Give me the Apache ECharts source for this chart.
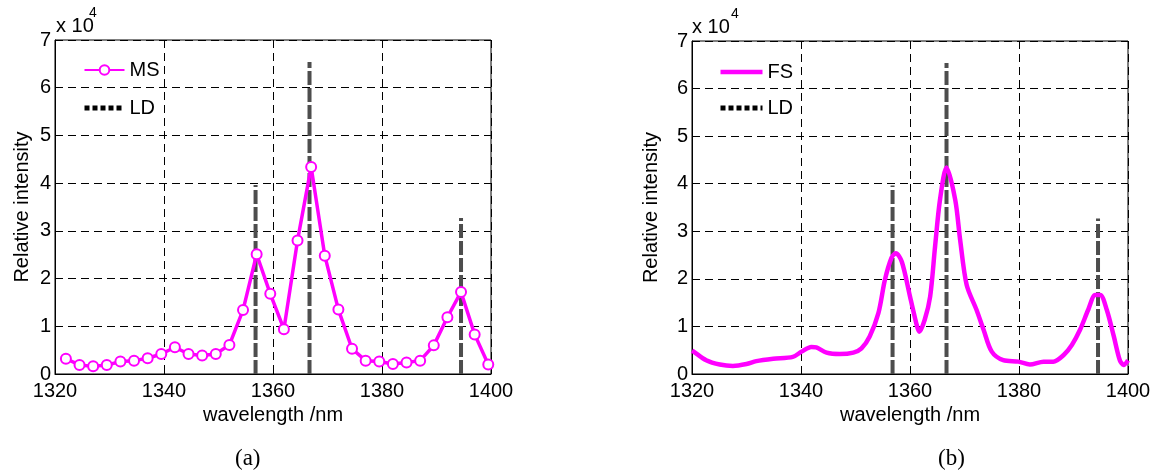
<!DOCTYPE html>
<html>
<head>
<meta charset="utf-8">
<script src="https://cdn.jsdelivr.net/npm/echarts@6/dist/echarts.min.js"></script>
<style>
  html, body { margin: 0; padding: 0; background: #fff; }
  #chart { width: 1156px; height: 472px; }
</style>
</head>
<body>
<div id="chart"></div>
<script>
// MS: measured spectrum (sampled every 2.5 nm)
var msWave = [1322, 1324.5, 1327, 1329.5, 1332, 1334.5, 1337, 1339.5, 1342, 1344.5,
              1347, 1349.5, 1352, 1354.5, 1357, 1359.5, 1362, 1364.5, 1367, 1369.5,
              1372, 1374.5, 1377, 1379.5, 1382, 1384.5, 1387, 1389.5, 1392, 1394.5,
              1397, 1399.5];
var msVal = [3200, 1900, 1600, 1900, 2600, 2800, 3300, 4200, 5600, 4200,
             3900, 4200, 6100, 13400, 25100, 16800, 9400, 28000, 43400, 24800,
             13500, 5300, 2800, 2600, 2100, 2400, 2800, 6000, 11900, 17200,
             8300, 2000];

// FS: fitted spectrum
var fsWave = [1320, 1320.3, 1322.6, 1325.1, 1327.5, 1330, 1331.8, 1334.9, 1338.5, 1340.1,
              1341.9, 1342.8, 1344.7, 1347.1, 1349.6, 1351.1, 1352.6, 1354.2, 1355.4, 1356.6,
              1357.4, 1358.5, 1360, 1361.3, 1361.7, 1362.7, 1363.7, 1364.6, 1365.5, 1366.7,
              1368.3, 1369.2, 1370.4, 1372.2, 1373.5, 1375, 1377.1, 1379.9, 1382, 1384.5,
              1386.3, 1388.2, 1389.7, 1391.2, 1392.7, 1394, 1394.9, 1396.1, 1397.4, 1398.5,
              1399.2, 1400];
var fsVal = [4900, 4700, 2900, 2000, 1700, 2100, 2700, 3200, 3600, 4700,
             5700, 5600, 4500, 4200, 4500, 5400, 7900, 12800, 19800, 24400,
             25400, 23600, 16300, 10000, 8900, 11400, 16300, 26800, 36600, 43400,
             36600, 28200, 18700, 13500, 9300, 4700, 2900, 2600, 2000, 2600,
             2600, 4000, 6100, 9300, 13500, 16600, 16600, 13500, 7900, 2900,
             1900, 2900];

// LD: laser diode lines
var ldWave = [1356.8, 1366.7, 1394.5];
var ldVal = [39600, 65400, 32700];

var xTicks = { min: 1320, max: 1400, interval: 20 };
var yTicks = { min: 0, max: 70000, interval: 10000 };

var SANS = '"Liberation Sans", Arial, sans-serif';
var SERIF = '"Liberation Serif", "Times New Roman", serif';
var MAGENTA = '#ff00ff';

function pairs(xs, ys) {
  return xs.map(function (x, i) { return [x, ys[i]]; });
}

function makeX(gridIndex) {
  return {
    type: 'value', gridIndex: gridIndex,
    min: xTicks.min, max: xTicks.max, interval: xTicks.interval,
    name: 'wavelength /nm', nameLocation: 'middle', nameGap: 31,
    nameTextStyle: { fontSize: 20, color: '#000', fontFamily: SANS },
    axisLine: { lineStyle: { color: '#000', width: 1 } },
    axisTick: { inside: true, length: 5, lineStyle: { color: '#000' } },
    axisLabel: {
      fontSize: 20, color: '#000', fontFamily: SANS, margin: 7,
      formatter: function (v) { return String(v); }
    },
    splitLine: { show: true, lineStyle: { color: '#000', width: 1, type: [8, 5] } }
  };
}

function makeY(gridIndex, gap) {
  return {
    type: 'value', gridIndex: gridIndex,
    min: yTicks.min, max: yTicks.max, interval: yTicks.interval,
    name: 'Relative intensity', nameLocation: 'middle', nameGap: gap,
    nameTextStyle: { fontSize: 20, color: '#000', fontFamily: SANS },
    axisLine: { show: true, lineStyle: { color: '#000', width: 1 } },
    axisTick: { show: true, inside: true, length: 5, lineStyle: { color: '#000' } },
    axisLabel: {
      fontSize: 20, color: '#000', fontFamily: SANS, margin: 4,
      formatter: function (v) { return String(v / 10000); }
    },
    splitLine: { show: true, lineStyle: { color: '#000', width: 1, type: [8, 5] } }
  };
}

function ldSeries(axisIndex) {
  return ldWave.map(function (x, i) {
    return {
      name: 'LD', type: 'line', xAxisIndex: axisIndex, yAxisIndex: axisIndex,
      data: [[x, 0], [x, ldVal[i]]],
      symbol: 'none', z: 1, silent: true,
      lineStyle: { color: '#4d4d4d', width: 4, type: [14, 3] }
    };
  });
}

// legend icons: plain dotted line for LD, plain line for FS
var ldLegendItem = {
  name: 'LD',
  itemStyle: { opacity: 0 },
  lineStyle: { color: '#000', width: 5, type: [5, 3] }
};
var fsLegendItem = {
  name: 'FS',
  itemStyle: { opacity: 0 },
  lineStyle: { color: MAGENTA, width: 4.5 }
};

var chart = echarts.init(document.getElementById('chart'));

var series = [
  {
    name: 'MS', type: 'line', xAxisIndex: 0, yAxisIndex: 0,
    data: pairs(msWave, msVal),
    symbol: 'emptyCircle', symbolSize: 10, showAllSymbol: true, z: 3,
    lineStyle: { color: MAGENTA, width: 3.5 },
    itemStyle: { color: MAGENTA, borderColor: MAGENTA, borderWidth: 3 }
  },
  {
    name: 'FS', type: 'line', xAxisIndex: 1, yAxisIndex: 1,
    data: pairs(fsWave, fsVal),
    symbol: 'none', smooth: 0.3, z: 3,
    lineStyle: { color: MAGENTA, width: 4.5 },
    itemStyle: { color: MAGENTA }
  }
].concat(ldSeries(0), ldSeries(1));

chart.setOption({
  backgroundColor: '#fff',
  animation: false,
  grid: [
    { left: 55, top: 40, width: 436, height: 334, show: true, borderColor: '#000', borderWidth: 1 },
    { left: 692, top: 41, width: 436, height: 333, show: true, borderColor: '#000', borderWidth: 1 }
  ],
  xAxis: [makeX(0), makeX(1)],
  yAxis: [makeY(0, 23), makeY(1, 31)],
  legend: [
    {
      left: 77, top: 55, orient: 'vertical', itemWidth: 40, itemHeight: 12, itemGap: 18,
      textStyle: { fontSize: 20, color: '#000', fontFamily: SANS, lineHeight: 20 },
      data: ['MS', ldLegendItem], selectedMode: false
    },
    {
      left: 713, top: 57, orient: 'vertical', itemWidth: 42, itemHeight: 12, itemGap: 16,
      textStyle: { fontSize: 20, color: '#000', fontFamily: SANS, lineHeight: 20 },
      data: [fsLegendItem, ldLegendItem], selectedMode: false
    }
  ],
  graphic: [
    { type: 'text', left: 56, top: 16, style: { text: 'x 10', fontSize: 20, fill: '#000', fontFamily: SANS } },
    { type: 'text', left: 89, top: 6, style: { text: '4', fontSize: 14, fill: '#000', fontFamily: SANS } },
    { type: 'text', left: 692, top: 17, style: { text: 'x 10', fontSize: 20, fill: '#000', fontFamily: SANS } },
    { type: 'text', left: 731, top: 7, style: { text: '4', fontSize: 14, fill: '#000', fontFamily: SANS } },
    { type: 'text', left: 235, top: 447, style: { text: '(a)', fontSize: 23, fill: '#000', fontFamily: SERIF } },
    { type: 'text', left: 938, top: 447, style: { text: '(b)', fontSize: 23, fill: '#000', fontFamily: SERIF } }
  ],
  series: series
});
</script>
</body>
</html>
